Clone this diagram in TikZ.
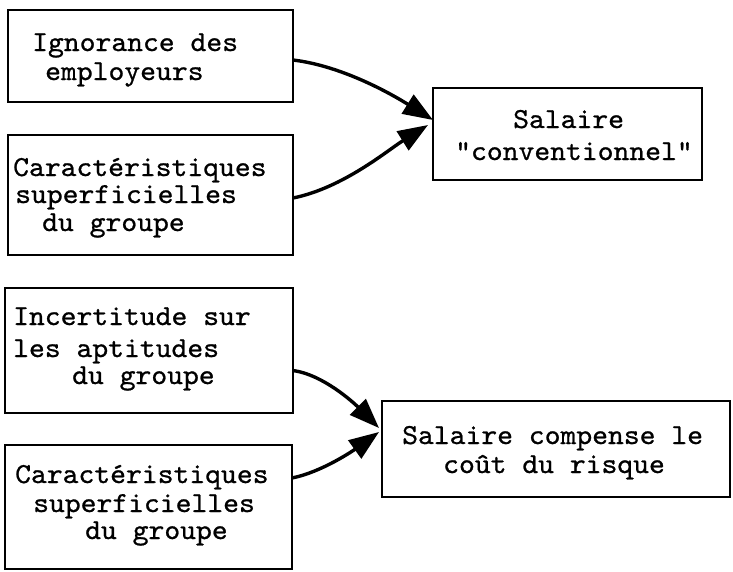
\documentclass[tikz,border=0pt]{standalone}
\usepackage{fontspec}
\setmonofont{lmmono10-regular.otf}[FakeBold=0.8,FakeStretch=1.04]
\usetikzlibrary{arrows.meta,calc}
\begin{document}
\begin{tikzpicture}[x=1pt,y=-1pt,
  box/.style={draw, line width=1.4pt, inner sep=0pt, outer sep=0pt, anchor=north west},
  txt/.style={anchor=base west, inner sep=0pt, font=\ttfamily\fontsize{29}{29}\selectfont},
  link/.style={line width=3.4pt, -{Triangle[length=30pt,width=22pt]}}]
\useasboundingbox (0,0) rectangle (733,571);

% upper group
\node[box, minimum width=285pt, minimum height=92pt]  (b1) at (8,10) {};
\node[box, minimum width=285pt, minimum height=120pt] (b2) at (8,135) {};
\node[box, minimum width=269pt, minimum height=92pt]  (b3) at (433,88) {};

\node[txt] (t1a) at (32,51) {Ignorance des};
\node[txt] (t1b) at (45,80) {employeurs};
\node[txt] (t2a) at (13,176) {Caractéristiques};
\node[txt] (t2b) at (15,203) {superficielles};
\node[txt] (t2c) at (42,231) {du groupe};
\node[txt] (t3a) at (513,128) {Salaire};
\node[txt] (t3b) at (455,160) {"conventionnel"};

% lower group
\node[box, minimum width=288pt, minimum height=125pt] (b4) at (5,288) {};
\node[box, minimum width=287pt, minimum height=124pt] (b5) at (5,445) {};
\node[box, minimum width=348pt, minimum height=96pt]  (b6) at (382,401) {};

\node[txt] (t4a) at (13,325) {Incertitude sur};
\node[txt] (t4b) at (13,357) {les aptitudes};
\node[txt] (t4c) at (72,384) {du groupe};
\node[txt] (t5a) at (15,483) {Caractéristiques};
\node[txt] (t5b) at (33,512) {superficielles};
\node[txt] (t5c) at (85,539) {du groupe};
\node[txt] (t6a) at (402,444) {Salaire compense le};
\node[txt] (t6b) at (443,473) {coût du risque};

% connectors
\draw[link] ($(b1.east)+(0,4)$) .. controls +(50,6) and +(-40,-25) .. ($(b3.west)+(0,-14)$);
\draw[link] ($(b2.east)+(0,3)$) .. controls +(50,-10) and +(-40,25) .. ($(b3.west)+(-5,-9)$);
\draw[link] ($(b4.east)+(0,20)$) .. controls +(30,4) and +(-25,-25) .. ($(b6.west)+(-3,-21)$);
\draw[link] ($(b5.east)+(0,-29)$) .. controls +(30,-6) and +(-25,18) .. ($(b6.west)+(-3,-17)$);
\end{tikzpicture}
\end{document}
